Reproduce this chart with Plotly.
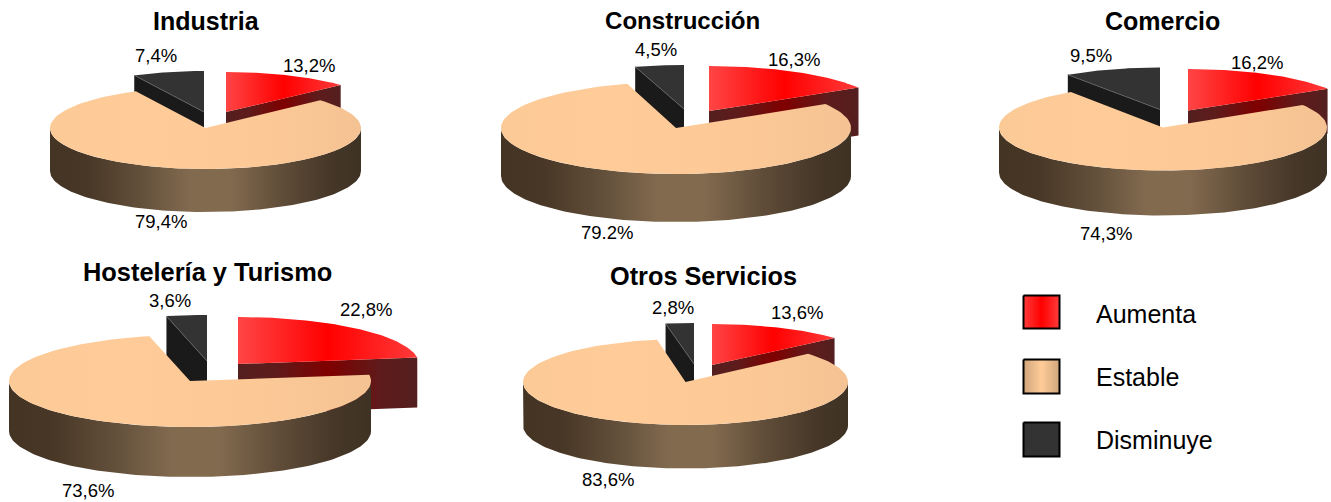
import numpy as np
import plotly.graph_objects as go

# ---- data ----
sectors = ["Industria", "Construcción", "Comercio", "Hostelería y Turismo", "Otros Servicios"]
categories = ["Aumenta", "Estable", "Disminuye"]
aumenta = [13.2, 16.3, 16.2, 22.8, 13.6]
estable = [79.4, 79.2, 74.3, 73.6, 83.6]
disminuye = [7.4, 4.5, 9.5, 3.6, 2.8]
aumenta_labels = ["13,2%", "16,3%", "16,2%", "22,8%", "13,6%"]
estable_labels = ["79,4%", "79.2%", "74,3%", "73,6%", "83,6%"]
disminuye_labels = ["7,4%", "4,5%", "9,5%", "3,6%", "2,8%"]

# ---- layout of each pie, in page pixels (the axes map 1:1 to the page) ----
# centre x, centre y, radius x, radius y, depth
pie_box = [
    (205.5, 128, 155.5, 41, 43),
    (676, 128, 175, 46, 48),
    (1163, 127.5, 164, 43, 45),
    (190, 381, 181, 46, 50),
    (685.5, 382, 162.5, 43, 43.5),
]
# offset of exploded slices from the centre, and their vertical radius
red_off = [(20.5, -16), (33, -17), (25, -17), (48, -17), (26.5, -17)]
red_b = [40, 45, 41.5, 47, 41]
dark_off = [(-1.5, -16), (8, -19), (-3, -18), (17, -20), (8.5, -18)]
dark_b = [41, 44, 42, 46, 41]
title_pos = [(206, 21), (682, 20), (1162, 21), (207, 272), (703, 276)]
title_size = [25, 24.1, 25, 25.4, 25.3]
red_label_pos = [(309, 65), (794, 59), (1257, 62), (366, 309), (797, 312)]
beige_label_pos = [(161, 221), (607, 232), (1106, 233), (88, 490), (608, 479)]
dark_label_pos = [(156, 55), (656, 49), (1091, 55), (170, 300), (673, 307)]
legend_boxes = [(1023.5, 295.5, 1059.5, 328.5), (1023.5, 359.5, 1059.5, 393.5), (1023.5, 422.5, 1059.5, 456.5)]
legend_text_x = 1094
legend_text_y = [314, 377, 440]

# ---- styles ----
FONT = "Liberation Sans"
RED_TOP = [[0, "#ff4545"], [0.5, "#ff0000"], [1, "#ff3a3a"]]
RED_SIDE = [[0, "#541f1f"], [0.2, "#5e1b1b"], [0.5, "#800000"], [0.8, "#5e1b1b"], [1, "#541f1f"]]
BEIGE_TOP = [[0, "#fcca97"], [0.3, "#ffcc99"], [0.6, "#fdca97"], [1, "#f5c393"]]
BEIGE_SIDE = [[0, "#443424"], [0.12, "#483726"], [0.3, "#64513c"], [0.45, "#826a4f"], [0.58, "#826a4f"],
              [0.75, "#5f4c38"], [0.9, "#463728"], [1, "#3e3224"]]
LEG_RED = [[0, "#ff3c3c"], [0.5, "#ff0000"], [1, "#ff3c3c"]]
LEG_BEIGE = [[0, "#cfa57a"], [0.5, "#ffcc99"], [1, "#cfa57a"]]


def rim(cx, cy, a, b, t0, t1, n=120):
    """Ellipse points for clockwise angles (degrees from 12 o'clock)."""
    t = np.radians(np.linspace(t0, t1, n))
    return cx + a * np.sin(t), cy - b * np.cos(t)


def poly(fig, xs, ys, scale=None, color=None, line=None):
    kw = dict(x=list(xs), y=list(ys), mode="lines", fill="toself", hoverinfo="skip",
              showlegend=False, line=line or dict(width=0))
    if scale is not None:
        kw["fillgradient"] = dict(type="horizontal", colorscale=scale)
    else:
        kw["fillcolor"] = color
    fig.add_trace(go.Scatter(**kw))


def wedge(cx, cy, a, b, t0, t1):
    x, y = rim(cx, cy, a, b, t0, t1)
    return np.r_[cx, x, cx], np.r_[cy, y, cy]


fig = go.Figure()
annotations = []


def label(text, pos, size, bold=False, xanchor="center"):
    annotations.append(dict(x=pos[0], y=pos[1], xref="x", yref="y", text=f"<b>{text}</b>" if bold else text,
                            showarrow=False, xanchor=xanchor, yanchor="middle",
                            font=dict(family=FONT, size=size, color="#000000")))


for i, name in enumerate(sectors):
    cx, cy, a, b, d = pie_box[i]
    red_end = aumenta[i] * 3.6
    beige_end = red_end + estable[i] * 3.6

    # Disminuye
    dx, dy = cx + dark_off[i][0], cy + dark_off[i][1]
    ex, ey = rim(dx, dy, a, dark_b[i], beige_end, 360, 2)
    poly(fig, [dx, ex[0], ex[0], dx], [dy, ey[0], ey[0] + d, dy + d], color="#1a1a1a")
    wx, wy = wedge(dx, dy, a, dark_b[i], beige_end, 360)
    poly(fig, wx, wy, color="#333333")
    fig.add_trace(go.Scatter(x=[ex[0], dx], y=[ey[0], dy], mode="lines", hoverinfo="skip", showlegend=False,
                             line=dict(color="#666666", width=0.7)))

    # Aumenta
    rx, ry = cx + red_off[i][0], cy + red_off[i][1]
    ex, ey = rim(rx, ry, a, red_b[i], 0, red_end, 2)
    poly(fig, [rx, ex[1], ex[1], rx], [ry, ey[1], ey[1] + d, ry + d], scale=RED_SIDE)
    wx, wy = wedge(rx, ry, a, red_b[i], 0, red_end)
    poly(fig, wx, wy, scale=RED_TOP)

    # Estable
    sx, sy = rim(cx, cy, a, b, max(red_end, 90), min(beige_end, 270))
    poly(fig, np.r_[sx, sx[::-1]], np.r_[sy, sy[::-1] + d], scale=BEIGE_SIDE)
    wx, wy = wedge(cx, cy, a, b, red_end, beige_end)
    poly(fig, wx, wy, scale=BEIGE_TOP)

    label(name, title_pos[i], title_size[i], bold=True)
    label(aumenta_labels[i], red_label_pos[i], 18.5)
    label(estable_labels[i], beige_label_pos[i], 18.5)
    label(disminuye_labels[i], dark_label_pos[i], 18.5)

# legend
leg_line = dict(color="#000000", width=2)
for (x0, y0, x1, y1), cat, ty, sc, col in zip(legend_boxes, categories, legend_text_y,
                                              [LEG_RED, LEG_BEIGE, None], [None, None, "#333333"]):
    poly(fig, [x0, x1, x1, x0, x0], [y0, y0, y1, y1, y0], scale=sc, color=col, line=leg_line)
    label(cat, (legend_text_x, ty), 25, xanchor="left")

fig.update_layout(
    width=1331, height=502, margin=dict(l=0, r=0, t=0, b=0),
    paper_bgcolor="white", plot_bgcolor="white", annotations=annotations, showlegend=False,
    xaxis=dict(range=[0, 1331], visible=False, fixedrange=True),
    yaxis=dict(range=[502, 0], visible=False, fixedrange=True),
)
fig.write_html("out.html", config=dict(displayModeBar=False),
               post_script="document.body.style.margin='0';document.body.style.overflow='hidden';")
